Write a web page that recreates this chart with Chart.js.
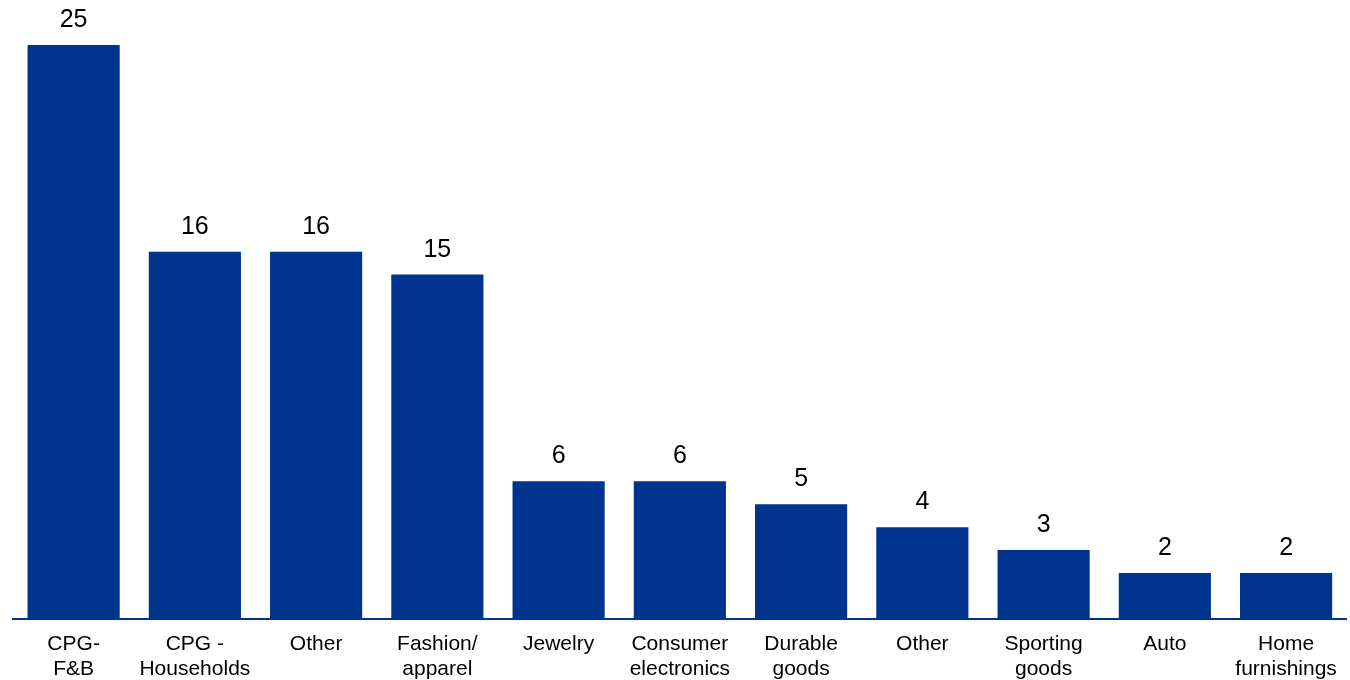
<!DOCTYPE html>
<html>
<head>
<meta charset="utf-8">
<script src="https://cdn.jsdelivr.net/npm/chart.js@4/dist/chart.umd.min.js"></script>
<style>
  html, body { margin: 0; padding: 0; background: #ffffff; }
  #wrap { width: 1350px; height: 680px; position: relative; }
</style>
</head>
<body>
<div id="wrap"><canvas id="chart"></canvas></div>
<script>
// Categories (multi-line labels) and values
const categories = [
  ['CPG-', 'F&B'],
  ['CPG -', 'Households'],
  ['Other'],
  ['Fashion/', 'apparel'],
  ['Jewelry'],
  ['Consumer', 'electronics'],
  ['Durable', 'goods'],
  ['Other'],
  ['Sporting', 'goods'],
  ['Auto'],
  ['Home', 'furnishings']
];
const values = [25, 16, 16, 15, 6, 6, 5, 4, 3, 2, 2];

const BAR_COLOR = '#00338D';
const FONT = '"Liberation Sans", Arial, Helvetica, sans-serif';

// Value labels drawn above each bar
const valueLabels = {
  id: 'valueLabels',
  afterDatasetsDraw(chart) {
    const ctx = chart.ctx;
    const meta = chart.getDatasetMeta(0);
    ctx.save();
    ctx.fillStyle = '#000000';
    ctx.font = '25px ' + FONT;
    ctx.textAlign = 'center';
    ctx.textBaseline = 'alphabetic';
    meta.data.forEach((bar, i) => {
      ctx.fillText(String(values[i]), bar.x, bar.y - 18);
    });
    ctx.restore();
  }
};

new Chart(document.getElementById('chart'), {
  type: 'bar',
  data: {
    labels: categories,
    datasets: [{
      data: values,
      backgroundColor: BAR_COLOR,
      borderWidth: 0,
      barPercentage: 0.76,
      categoryPercentage: 1.0
    }]
  },
  options: {
    responsive: true,
    maintainAspectRatio: false,
    animation: false,
    devicePixelRatio: 1,
    layout: { padding: { left: 13, right: 3, top: 45, bottom: 0 } },
    plugins: {
      legend: { display: false },
      tooltip: { enabled: false }
    },
    scales: {
      x: {
        grid: { display: false, drawTicks: false },
        border: { display: true, color: BAR_COLOR, width: 2 },
        ticks: {
          color: '#000000',
          font: { family: FONT, size: 21, lineHeight: 1.17 },
          padding: 13,
          maxRotation: 0,
          autoSkip: false
        },
        afterFit(scale) { scale.height = 61; }
      },
      y: {
        display: false,
        min: 0,
        max: 25
      }
    }
  },
  plugins: [valueLabels]
});
</script>
</body>
</html>
